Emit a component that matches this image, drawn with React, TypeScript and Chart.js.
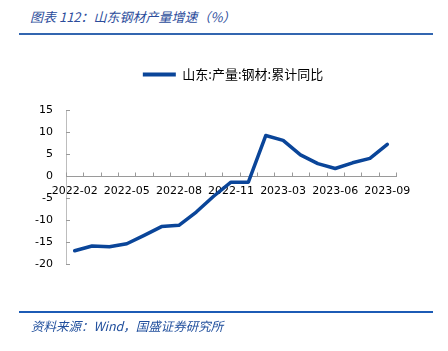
import React, { useEffect, useRef } from "react";
import { Chart, registerables } from "chart.js";

Chart.register(...registerables);

const categories: string[] = [
  "2022-02", "2022-03", "2022-04", "2022-05", "2022-06", "2022-07", "2022-08",
  "2022-09", "2022-10", "2022-11", "2022-12", "2023-02", "2023-03", "2023-04",
  "2023-05", "2023-06", "2023-07", "2023-08", "2023-09",
];
const seriesValues: number[] = [
  -17.0, -15.9, -16.1, -15.4, -13.5, -11.5, -11.2, -8.2, -4.6, -1.4, -1.4,
  9.2, 8.1, 4.8, 2.8, 1.7, 3.0, 4.0, 7.2,
];
const seriesName = "山东:产量:钢材:累计同比";
const yTicks: number[] = [-20, -15, -10, -5, 0, 5, 10, 15];

const LINE_COLOR = "#0a4599";
const AXIS_COLOR = "#9a9a9a";

const innerTicks = {
  id: "innerTicks",
  beforeDatasetsDraw(chart: any) {
    const { ctx, chartArea } = chart;
    const ys = chart.scales.y;
    ctx.save();
    ctx.strokeStyle = AXIS_COLOR;
    ctx.lineWidth = 1;
    const y0 = Math.round(ys.getPixelForValue(0)) + 0.5;
    const n = categories.length;
    ctx.beginPath();
    for (let i = 0; i <= n; i++) {
      const px = Math.round(chartArea.left + (i * (chartArea.right - chartArea.left)) / n) + 0.5;
      ctx.moveTo(px, y0);
      ctx.lineTo(px, y0 - 4);
    }
    for (const v of yTicks) {
      const py = Math.round(ys.getPixelForValue(v)) + 0.5;
      ctx.moveTo(chartArea.left, py);
      ctx.lineTo(chartArea.left + 4, py);
    }
    ctx.stroke();
    ctx.restore();
  },
};

export default function App() {
  const canvasRef = useRef<HTMLCanvasElement | null>(null);

  useEffect(() => {
    const canvas = canvasRef.current;
    if (!canvas) return;
    const tickFont = { family: "'DejaVu Sans', Verdana, sans-serif", size: 11 };
    const chart = new Chart(canvas, {
      type: "line",
      data: {
        labels: categories,
        datasets: [
          {
            label: seriesName,
            data: seriesValues,
            borderColor: LINE_COLOR,
            backgroundColor: LINE_COLOR,
            borderWidth: 3.5,
            borderJoinStyle: "round",
            borderCapStyle: "round",
            pointRadius: 0,
            tension: 0,
            fill: false,
          },
        ],
      },
      options: {
        animation: false,
        responsive: false,
        maintainAspectRatio: false,
        layout: { padding: { top: 58, left: 18, right: 0, bottom: 87 } },
        plugins: {
          legend: {
            display: true,
            position: "top",
            weight: 1000,
            labels: {
              boxWidth: 33,
              boxHeight: 4,
              padding: 10,
              color: "#000",
              font: { family: "'Noto Sans CJK SC', sans-serif", size: 13 },
              generateLabels: () => [
                {
                  text: seriesName,
                  fillStyle: LINE_COLOR,
                  strokeStyle: LINE_COLOR,
                  lineWidth: 0,
                  hidden: false,
                  datasetIndex: 0,
                } as any,
              ],
            },
          },
          title: {
            display: true,
            text: "",
            weight: 500,
            padding: 0,
            font: { size: 19, lineHeight: 1 },
          } as any,
          tooltip: { enabled: false },
        },
        scales: {
          x: {
            type: "category",
            position: { y: 0 } as any,
            offset: true,
            grid: { display: false, drawTicks: false, offset: true },
            border: { display: true, color: AXIS_COLOR, width: 1 },
            ticks: {
              autoSkip: false,
              maxRotation: 0,
              minRotation: 0,
              padding: 9,
              color: "#000",
              font: tickFont,
              callback: (_v: any, i: number) => (i % 3 === 0 ? categories[i] : ""),
            },
          },
          y: {
            type: "linear",
            position: "left",
            min: -20,
            max: 15,
            afterFit: (s: any) => {
              s.width = 48;
            },
            grid: { display: false, drawTicks: false },
            border: { display: true, color: "#bdbdbd", width: 1 },
            ticks: {
              stepSize: 5,
              padding: 13,
              color: "#000",
              font: tickFont,
            },
          },
          y2: {
            type: "linear",
            position: "right",
            display: true,
            afterFit: (s: any) => {
              s.width = 52;
            },
            grid: { display: false, drawTicks: false },
            border: { display: false },
            ticks: { display: false },
          },
        },
      },
      plugins: [innerTicks],
    });
    return () => chart.destroy();
  }, []);

  const textFont = "'Noto Sans CJK SC', sans-serif";
  return (
    <div style={{ position: "fixed", left: 0, top: 0, width: 448, height: 351, background: "#fff", overflow: "hidden" }}>
      <div
        style={{
          position: "absolute", left: 30, top: 8, fontFamily: textFont, fontStyle: "italic",
          fontSize: 13, lineHeight: "18px", color: "#2b4c9b", whiteSpace: "nowrap",
        }}
      >
        图表 112：山东钢材产量增速（%）
      </div>
      <div style={{ position: "absolute", left: 19, top: 33, width: 414, height: 2, background: "#3266b0" }} />
      <canvas ref={canvasRef} width={448} height={351} style={{ position: "absolute", left: 0, top: 0 }} />
      <div style={{ position: "absolute", left: 19, top: 311, width: 414, height: 1.5, background: "#1c5bb5" }} />
      <div
        style={{
          position: "absolute", left: 31, top: 317, fontFamily: textFont, fontStyle: "italic",
          fontSize: 12.5, lineHeight: "18px", color: "#1f4e9c", whiteSpace: "nowrap",
        }}
      >
        资料来源：Wind，国盛证券研究所
      </div>
    </div>
  );
}
